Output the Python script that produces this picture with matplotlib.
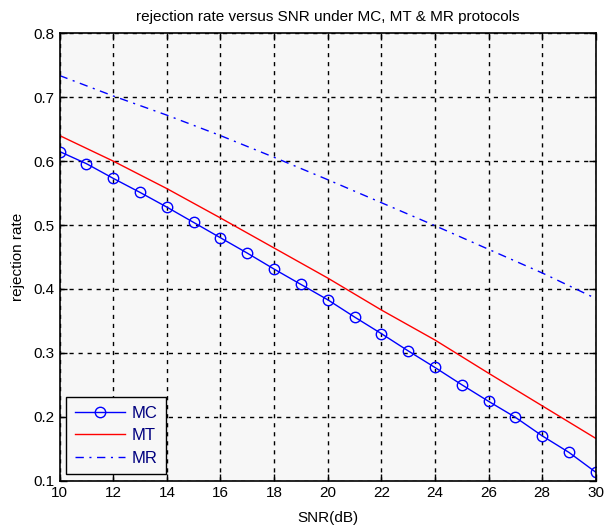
import numpy as np
import matplotlib
matplotlib.use("Agg")
import matplotlib.pyplot as plt

plt.rcParams['font.family'] = ['Liberation Sans', 'DejaVu Sans']

# data
snr = np.arange(10, 31)
mc = [0.615, 0.596, 0.573, 0.551, 0.528, 0.504, 0.480, 0.456, 0.431, 0.407, 0.383,
      0.356, 0.330, 0.303, 0.277, 0.250, 0.224, 0.199, 0.170, 0.144, 0.113]
snr_mt = [10, 12, 14, 16, 18, 20, 22, 24, 26, 28, 30]
mt = [0.640, 0.600, 0.557, 0.511, 0.464, 0.417, 0.367, 0.320, 0.268, 0.217, 0.166]
snr_mr = [10, 12, 14, 16, 18, 20, 22, 24, 26, 28, 30]
mr = [0.734, 0.702, 0.672, 0.640, 0.606, 0.571, 0.535, 0.499, 0.462, 0.425, 0.385]

xticks = [10, 12, 14, 16, 18, 20, 22, 24, 26, 28, 30]
yticks = [0.1, 0.2, 0.3, 0.4, 0.5, 0.6, 0.7, 0.8]

fig = plt.figure(figsize=(6.04, 5.26), dpi=100)
fig.patch.set_facecolor('white')
ax = fig.add_axes([0.0988, 0.0865, 0.8875, 0.85])
ax.set_facecolor('#f7f7f7')

ax.plot(snr, mc, color='#0000ff', linewidth=1.0, marker='o', markersize=7.5,
        markerfacecolor='none', markeredgecolor='#0000ff', markeredgewidth=1.0, label='MC')
ax.plot(snr_mt, mt, color='#ff0000', linewidth=1.0, label='MT')
ax.plot(snr_mr, mr, color='#0000ff', linewidth=1.0, dashes=(6, 4, 1.5, 4), label='MR')

ax.set_xlim(10, 30)
ax.set_ylim(0.1, 0.8)
ax.set_xticks(xticks)
ax.set_yticks(yticks)
ax.set_yticklabels([f"{v:g}" for v in yticks])
ax.grid(True, color='black', linestyle=(0, (3, 3.5)), linewidth=1.0)
ax.tick_params(direction='in', length=5, width=1, top=True, right=True,
               labelsize=11, pad=4, colors='black')
for s in ax.spines.values():
    s.set_linewidth(1.2)

ax.set_title('rejection rate versus SNR under MC, MT & MR protocols', fontsize=11, pad=9)
ax.set_xlabel('SNR(dB)', fontsize=11, labelpad=8)
ax.set_ylabel('rejection rate', fontsize=11, labelpad=6)

leg = ax.legend(loc='lower left', fontsize=12, frameon=True, fancybox=False,
                edgecolor='black', facecolor='#f7f7f7', framealpha=1.0,
                handlelength=3.0, borderaxespad=0.4, labelspacing=0.45,
                handletextpad=0.4, borderpad=0.5)
leg.get_frame().set_linewidth(1.0)
for t in leg.get_texts():
    t.set_color('#00007f')

fig.savefig('out.png', dpi=100, facecolor=fig.get_facecolor())
